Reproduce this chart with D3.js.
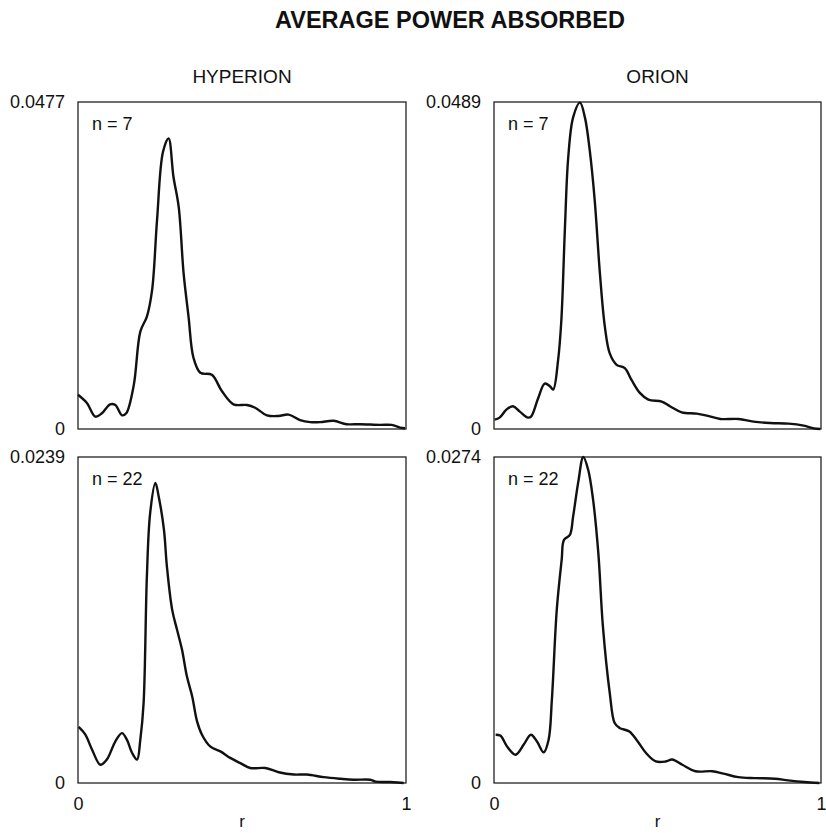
<!DOCTYPE html>
<html>
<head>
<meta charset="utf-8">
<script src="https://cdn.jsdelivr.net/npm/d3@7"></script>
<style>
  html, body { margin: 0; padding: 0; background: #fff; }
  svg { display: block; font-family: "Liberation Sans", Arial, Helvetica, sans-serif; }
</style>
</head>
<body>
<svg id="chart" width="826" height="833"></svg>
<script>
// ---- data ----
const title = "AVERAGE POWER ABSORBED";
const columnTitles = ["HYPERION", "ORION"];
const rowLabels = ["n = 7", "n = 22"];
const yMaxLabels = ["0.0477", "0.0489", "0.0239", "0.0274"];
const xTickLabels = ["0", "1"];
const xAxisLabel = "r";

// HYPERION, n = 7
const rHypN7 = [0, 0.027, 0.053, 0.073, 0.098, 0.114, 0.134, 0.147, 0.170, 0.190, 0.210, 0.226, 0.241, 0.259, 0.276, 0.291, 0.307, 0.322, 0.337, 0.352, 0.373, 0.408, 0.439, 0.474, 0.515, 0.540, 0.576, 0.611, 0.642, 0.677, 0.708, 0.738, 0.779, 0.819, 0.860, 0.921, 0.956, 0.982, 0.997];
const pHypN7 = [0.0050, 0.0038, 0.0018, 0.0023, 0.0036, 0.0035, 0.0020, 0.0023, 0.0064, 0.0142, 0.0164, 0.0203, 0.0305, 0.0404, 0.0424, 0.0368, 0.0324, 0.0227, 0.0164, 0.0104, 0.0082, 0.0079, 0.0055, 0.0036, 0.0035, 0.0031, 0.0020, 0.0019, 0.0021, 0.0013, 0.0010, 0.0010, 0.0012, 0.0007, 0.0007, 0.0006, 0.0006, 0.0002, 0.0001];

// ORION, n = 7
const rOriN7 = [0.002, 0.017, 0.038, 0.058, 0.079, 0.104, 0.114, 0.135, 0.155, 0.171, 0.181, 0.196, 0.206, 0.217, 0.227, 0.242, 0.263, 0.278, 0.293, 0.308, 0.324, 0.339, 0.354, 0.375, 0.400, 0.421, 0.446, 0.472, 0.513, 0.538, 0.574, 0.620, 0.651, 0.692, 0.748, 0.794, 0.845, 0.901, 0.947, 0.978, 0.998];
const pOriN7 = [0.0014, 0.0017, 0.0029, 0.0034, 0.0026, 0.0017, 0.0019, 0.0046, 0.0068, 0.0064, 0.0059, 0.0103, 0.0163, 0.0302, 0.0406, 0.0466, 0.0488, 0.0466, 0.0416, 0.0342, 0.0232, 0.0153, 0.0113, 0.0096, 0.0091, 0.0073, 0.0054, 0.0044, 0.0041, 0.0034, 0.0025, 0.0023, 0.0020, 0.0015, 0.0015, 0.0011, 0.0009, 0.0008, 0.0005, 0.0001, 0.0000];

// HYPERION, n = 22
const rHypN22 = [0.002, 0.022, 0.043, 0.068, 0.088, 0.114, 0.134, 0.149, 0.165, 0.180, 0.190, 0.200, 0.210, 0.220, 0.236, 0.246, 0.262, 0.271, 0.287, 0.302, 0.317, 0.332, 0.348, 0.363, 0.378, 0.403, 0.434, 0.464, 0.495, 0.525, 0.571, 0.612, 0.658, 0.698, 0.749, 0.800, 0.840, 0.891, 0.907, 0.952, 0.993];
const pHypN22 = [0.00411, 0.00356, 0.00244, 0.00134, 0.00172, 0.00306, 0.00366, 0.00318, 0.00220, 0.00172, 0.00318, 0.00586, 0.01515, 0.01979, 0.02199, 0.02101, 0.01857, 0.01589, 0.01271, 0.01123, 0.00978, 0.00782, 0.00636, 0.00452, 0.00354, 0.00268, 0.00232, 0.00184, 0.00146, 0.00110, 0.00110, 0.00079, 0.00062, 0.00062, 0.00043, 0.00031, 0.00024, 0.00024, 0.00010, 0.00007, 0.00000];

// ORION, n = 22
const rOriN22 = [0.005, 0.020, 0.040, 0.066, 0.091, 0.113, 0.131, 0.152, 0.167, 0.177, 0.192, 0.207, 0.214, 0.232, 0.242, 0.258, 0.273, 0.288, 0.303, 0.319, 0.333, 0.354, 0.369, 0.384, 0.414, 0.439, 0.465, 0.495, 0.525, 0.545, 0.576, 0.616, 0.667, 0.702, 0.747, 0.798, 0.859, 0.899, 0.949, 0.995];
const pOriN22 = [0.00406, 0.00397, 0.00307, 0.00238, 0.00323, 0.00406, 0.00351, 0.00258, 0.00364, 0.00701, 0.01458, 0.01877, 0.02044, 0.02085, 0.02241, 0.02535, 0.02740, 0.02633, 0.02381, 0.01934, 0.01318, 0.00756, 0.00504, 0.00463, 0.00433, 0.00351, 0.00252, 0.00181, 0.00181, 0.00197, 0.00153, 0.00099, 0.00099, 0.00079, 0.00049, 0.00041, 0.00036, 0.00022, 0.00008, 0.00000];

const panels = [
  { row: 0, col: 0, r: rHypN7,  p: pHypN7,  ymax: +yMaxLabels[0], ylab: yMaxLabels[0] },
  { row: 0, col: 1, r: rOriN7,  p: pOriN7,  ymax: +yMaxLabels[1], ylab: yMaxLabels[1] },
  { row: 1, col: 0, r: rHypN22, p: pHypN22, ymax: +yMaxLabels[2], ylab: yMaxLabels[2] },
  { row: 1, col: 1, r: rOriN22, p: pOriN22, ymax: +yMaxLabels[3], ylab: yMaxLabels[3] }
];

// ---- layout ----
const colX = [[78, 406], [494, 821]];
const rowY = [[102, 429], [457, 783]];
const textColor = "#111";

const svg = d3.select("#chart");

svg.append("text")
  .attr("x", 450).attr("y", 28)
  .attr("text-anchor", "middle")
  .attr("font-size", 23.5).attr("font-weight", "bold")
  .attr("fill", textColor)
  .text(title);

columnTitles.forEach((t, i) => {
  svg.append("text")
    .attr("x", (colX[i][0] + colX[i][1]) / 2).attr("y", 83)
    .attr("text-anchor", "middle")
    .attr("font-size", 19)
    .attr("fill", textColor)
    .text(t);
});

panels.forEach(pn => {
  const [x0, x1] = colX[pn.col];
  const [y0, y1] = rowY[pn.row];
  const x = d3.scaleLinear().domain([0, 1]).range([x0, x1]);
  const y = d3.scaleLinear().domain([0, pn.ymax]).range([y1, y0]);
  const g = svg.append("g");

  // frame
  g.append("rect")
    .attr("x", x0).attr("y", y0)
    .attr("width", x1 - x0).attr("height", y1 - y0)
    .attr("fill", "none").attr("stroke", "#222").attr("stroke-width", 1.3);

  // y axis labels
  const ya = g.append("g").attr("transform", `translate(${x0},0)`)
    .call(d3.axisLeft(y).tickValues([0, pn.ymax]).tickSize(0).tickPadding(13)
      .tickFormat(v => v === 0 ? "0" : pn.ylab));
  ya.select(".domain").remove();
  ya.selectAll("text").attr("font-size", 18).attr("fill", textColor)
    .attr("font-family", "'Liberation Sans', Arial, sans-serif");

  // x axis labels on bottom row
  if (pn.row === 1) {
    const xa = g.append("g").attr("transform", `translate(0,${y1})`)
      .call(d3.axisBottom(x).tickValues([0, 1]).tickSize(0).tickPadding(14)
        .tickFormat((v, i) => xTickLabels[i]));
    xa.select(".domain").remove();
    xa.selectAll("text").attr("font-size", 18).attr("fill", textColor)
      .attr("font-family", "'Liberation Sans', Arial, sans-serif");
    g.append("text")
      .attr("x", (x0 + x1) / 2).attr("y", 827)
      .attr("text-anchor", "middle")
      .attr("font-size", 17).attr("fill", textColor)
      .text(xAxisLabel);
  }

  // n label
  g.append("text")
    .attr("x", x0 + 14).attr("y", y0 + 28)
    .attr("font-size", 18).attr("fill", textColor)
    .text(rowLabels[pn.row]);

  // curve
  const line = d3.line()
    .x((d, i) => x(pn.r[i]))
    .y((d, i) => y(pn.p[i]))
    .curve(d3.curveCatmullRom.alpha(0.5));
  g.append("path")
    .datum(pn.p)
    .attr("d", line)
    .attr("fill", "none")
    .attr("stroke", "#111")
    .attr("stroke-width", 2.4)
    .attr("stroke-linejoin", "round");
});
</script>
</body>
</html>
